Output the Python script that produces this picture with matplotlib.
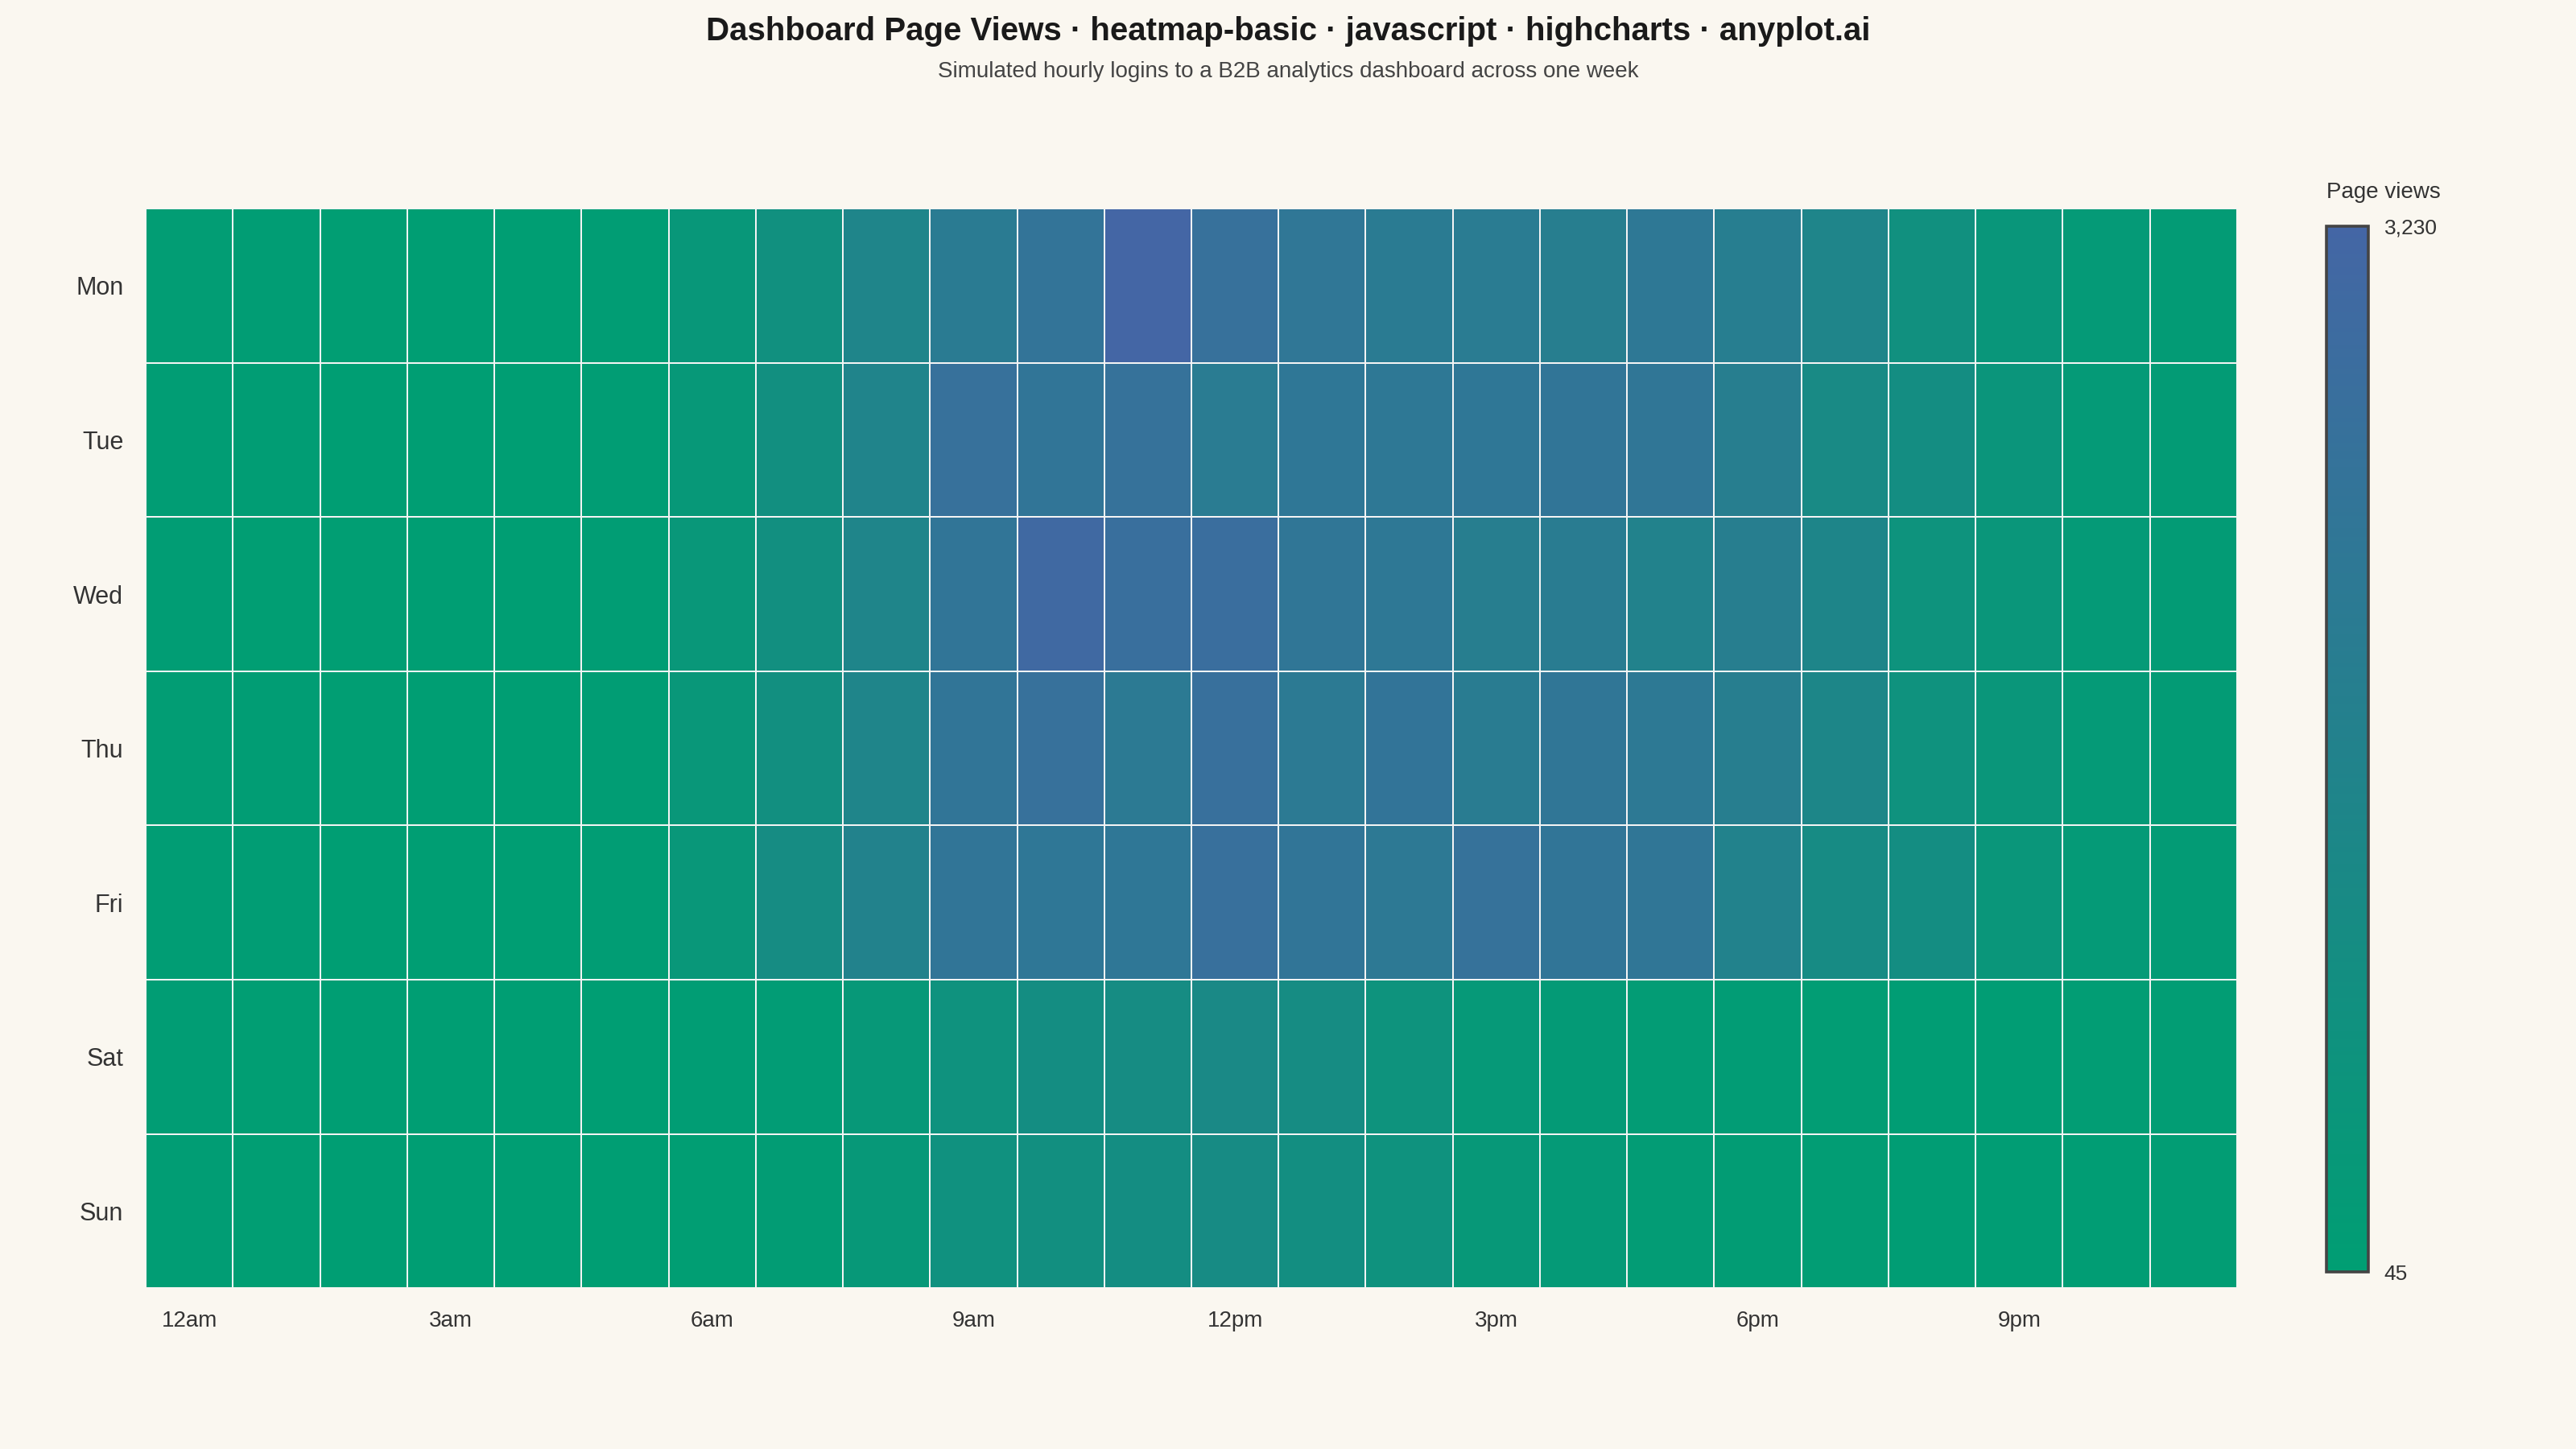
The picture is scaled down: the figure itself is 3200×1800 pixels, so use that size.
import matplotlib
matplotlib.use("Agg")
import matplotlib.pyplot as plt
import numpy as np
from matplotlib.colors import LinearSegmentedColormap

plt.rcParams['font.family'] = ['Liberation Sans', 'DejaVu Sans']

days = ["Mon", "Tue", "Wed", "Thu", "Fri", "Sat", "Sun"]
hour_labels = ["12am", "3am", "6am", "9am", "12pm", "3pm", "6pm", "9pm"]

# page views per hour (0..23)
mon = [120, 90, 70, 60, 55, 95, 420, 840, 1480, 2020, 2430, 3230,
       2600, 2280, 2020, 2000, 1850, 2210, 1880, 1480, 840, 490, 300, 200]
tue = [115, 85, 65, 55, 60, 100, 400, 900, 1550, 2600, 2350, 2550,
       2000, 2250, 2200, 2250, 2350, 2300, 1850, 1200, 1000, 550, 300, 200]
wed = [110, 80, 70, 60, 55, 90, 450, 900, 1500, 2350, 3050, 2700,
       2750, 2300, 2200, 1850, 1950, 1650, 1850, 1450, 700, 500, 300, 200]
thu = [120, 85, 70, 60, 55, 95, 450, 900, 1500, 2350, 2600, 2100,
       2650, 2100, 2400, 1950, 2300, 2150, 1850, 1400, 750, 500, 300, 200]
fri = [115, 90, 65, 60, 55, 100, 450, 1100, 1650, 2350, 2250, 2250,
       2650, 2350, 2150, 2550, 2350, 2300, 1650, 1150, 1000, 500, 300, 200]
sat = [110, 80, 60, 55, 50, 60, 90, 150, 400, 750, 1000, 1100,
       1250, 1100, 700, 350, 250, 180, 150, 120, 110, 100, 120, 130]
sun = [100, 75, 60, 50, 45, 55, 80, 140, 400, 800, 900, 1000,
       1150, 950, 750, 400, 280, 180, 140, 120, 100, 95, 110, 120]

views = np.array([mon, tue, wed, thu, fri, sat, sun])
vmin, vmax = 45, 3230

cmap = LinearSegmentedColormap.from_list("gb", ["#009E73", "#4466A5"])

fig = plt.figure(figsize=(16, 9), dpi=200, facecolor="#FAF7F0")
ax = fig.add_axes([0.0566, 0.111, 0.8118, 0.745])
ax.set_facecolor("#FAF7F0")

mesh = ax.pcolormesh(views, cmap=cmap, vmin=vmin, vmax=vmax,
                     edgecolors="#F4F4F4", linewidth=0.7)
ax.set_xlim(0, 24)
ax.set_ylim(7, 0)

ax.set_yticks(np.arange(7) + 0.5)
ax.set_yticklabels(days, fontsize=11, color="#333333")
ax.set_xticks(np.arange(0, 24, 3) + 0.5)
ax.set_xticklabels(hour_labels, fontsize=10, color="#333333")
ax.tick_params(axis="y", length=0, pad=10)
ax.tick_params(axis="x", length=0, pad=10)
for s in ax.spines.values():
    s.set_visible(False)

fig.text(0.5, 0.989, "Dashboard Page Views · heatmap-basic · javascript · highcharts · anyplot.ai",
         ha="center", va="top", fontsize=14.5, fontweight="bold", color="#1a1a1a")
fig.text(0.5, 0.958, "Simulated hourly logins to a B2B analytics dashboard across one week",
         ha="center", va="top", fontsize=10, color="#444444")

cax = fig.add_axes([0.9031, 0.122, 0.0163, 0.722])
cb = fig.colorbar(mesh, cax=cax)
cb.outline.set_edgecolor("#444444")
cb.outline.set_linewidth(1.3)
cb.set_ticks([vmin, vmax])
cb.set_ticklabels(["45", "3,230"])
cax.tick_params(length=0, labelsize=9.5, colors="#333333", pad=7)
fig.text(0.9031, 0.860, "Page views", ha="left", va="bottom", fontsize=10, color="#333333")

fig.savefig("out.png", dpi=200, facecolor=fig.get_facecolor())
